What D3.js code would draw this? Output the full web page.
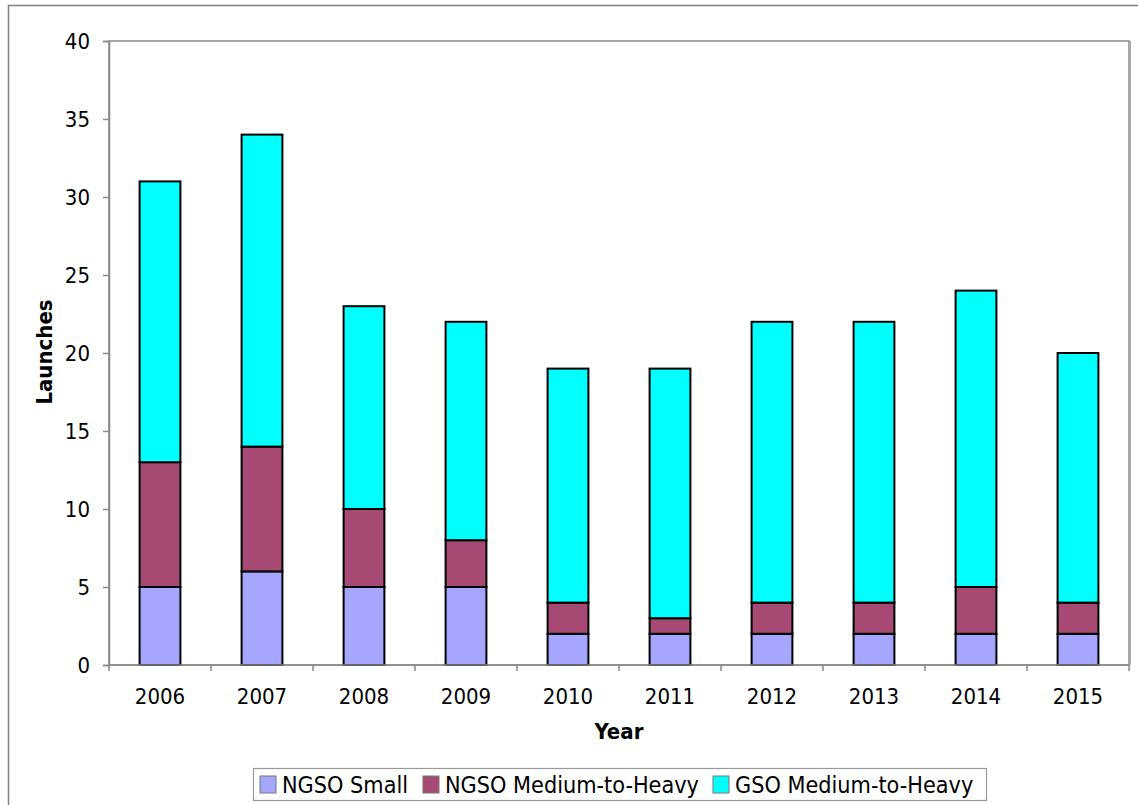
<!DOCTYPE html>
<html>
<head>
<meta charset="utf-8">
<script src="https://cdn.jsdelivr.net/npm/d3@7"></script>
<style>
  html, body { margin: 0; padding: 0; background: #fff; }
  svg { display: block; }
  text { font-family: "DejaVu Sans Condensed", "DejaVu Sans", Verdana, sans-serif; fill: #000; }
</style>
</head>
<body>
<svg id="chart" width="1138" height="805"></svg>
<script>
// Commercial launches per year, by orbit / payload class
const years = ["2006","2007","2008","2009","2010","2011","2012","2013","2014","2015"];
const ngsoSmall = [5, 6, 5, 5, 2, 2, 2, 2, 2, 2];
const ngsoMediumHeavy = [8, 8, 5, 3, 2, 1, 2, 2, 3, 2];
const gsoMediumHeavy = [18, 20, 13, 14, 15, 16, 18, 18, 19, 16];
const seriesNames = ["NGSO Small", "NGSO Medium-to-Heavy", "GSO Medium-to-Heavy"];
const seriesColors = ["#A6A6FF", "#A64A74", "#00FFFF"];
const yTicks = [0, 5, 10, 15, 20, 25, 30, 35, 40];

const svg = d3.select("#chart");

// outer chart frame
svg.append("rect")
  .attr("x", 8.5).attr("y", 5.5)
  .attr("width", 1140).attr("height", 810)
  .attr("fill", "none").attr("stroke", "#808080").attr("stroke-width", 1.5);

const plot = { left: 109, top: 41, right: 1129, bottom: 665 };

const x = d3.scaleBand().domain(years).range([plot.left, plot.right]).paddingInner(0.6).paddingOuter(0.3);
const y = d3.scaleLinear().domain([0, 40]).range([plot.bottom, plot.top]);

// plot area box
svg.append("rect")
  .attr("x", plot.left).attr("y", plot.top)
  .attr("width", plot.right - plot.left).attr("height", plot.bottom - plot.top)
  .attr("fill", "#fff").attr("stroke", "#888").attr("stroke-width", 1.5);
svg.append("line")
  .attr("x1", plot.right + 1).attr("x2", plot.right + 1)
  .attr("y1", plot.top).attr("y2", plot.bottom)
  .attr("stroke", "#aaa").attr("stroke-width", 2);

// stacked data
const table = years.map((yr, i) => ({
  year: yr,
  s0: ngsoSmall[i], s1: ngsoMediumHeavy[i], s2: gsoMediumHeavy[i]
}));
const stack = d3.stack().keys(["s0", "s1", "s2"])(table);

svg.append("g").selectAll("g")
  .data(stack)
  .join("g")
  .attr("fill", (d, i) => seriesColors[i])
  .selectAll("rect")
  .data(d => d)
  .join("rect")
  .attr("x", d => x(d.data.year))
  .attr("width", x.bandwidth())
  .attr("y", d => y(d[1]))
  .attr("height", d => y(d[0]) - y(d[1]))
  .attr("stroke", "#000").attr("stroke-width", 2);

// y axis
const yAxis = svg.append("g")
  .attr("transform", `translate(${plot.left},0)`)
  .call(d3.axisLeft(y).tickValues(yTicks).tickSize(6).tickPadding(13));
yAxis.select(".domain").attr("stroke", "#888").attr("stroke-width", 1.5);
yAxis.selectAll(".tick line").attr("stroke", "#888").attr("stroke-width", 1.5);
yAxis.selectAll(".tick text")
  .style("font-size", "22px")
  .style("font-family", "'DejaVu Sans Condensed', 'DejaVu Sans', sans-serif")
  .attr("fill", "#000");

// x axis: ticks between categories
const xAxisG = svg.append("g").attr("transform", `translate(0,${plot.bottom})`);
xAxisG.append("line")
  .attr("x1", plot.left).attr("x2", plot.right)
  .attr("stroke", "#888").attr("stroke-width", 1.5);
const boundaries = d3.range(years.length + 1).map(i => plot.left + i * (plot.right - plot.left) / years.length);
xAxisG.selectAll("line.tk")
  .data(boundaries)
  .join("line").attr("class", "tk")
  .attr("x1", d => d).attr("x2", d => d)
  .attr("y1", 0).attr("y2", 6)
  .attr("stroke", "#888").attr("stroke-width", 1.5);
xAxisG.selectAll("text")
  .data(years)
  .join("text")
  .attr("x", d => x(d) + x.bandwidth() / 2)
  .attr("y", 39)
  .attr("text-anchor", "middle")
  .style("font-size", "22px")
  .text(d => d);

// axis titles
svg.append("text")
  .attr("x", 619)
  .attr("y", 739)
  .attr("text-anchor", "middle")
  .style("font-size", "22px").style("font-weight", "bold")
  .text("Year");
svg.append("text")
  .attr("transform", `translate(52,352) rotate(-90)`)
  .attr("text-anchor", "middle")
  .style("font-size", "22px").style("font-weight", "bold")
  .text("Launches");

// legend
const legend = svg.append("g");
legend.append("rect")
  .attr("x", 253.5).attr("y", 768.5).attr("width", 733).attr("height", 32)
  .attr("fill", "#fff").attr("stroke", "#999").attr("stroke-width", 1.2);
const legendX = [260, 423, 713];
const items = legend.selectAll("g.item")
  .data(seriesNames)
  .join("g").attr("class", "item")
  .attr("transform", (d, i) => `translate(${legendX[i]},776)`);
items.append("rect")
  .attr("width", 16).attr("height", 17)
  .attr("fill", (d, i) => seriesColors[i])
  .attr("stroke", "#777").attr("stroke-width", 1);
items.append("text")
  .attr("x", 22).attr("y", 17)
  .style("font-size", "23.2px")
  .text(d => d);
</script>
</body>
</html>
